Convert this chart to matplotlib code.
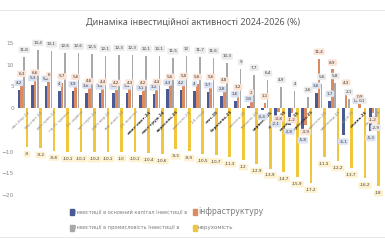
import matplotlib

matplotlib.use("Agg")

import matplotlib.pyplot as plt
import numpy as np
from matplotlib.lines import Line2D
from matplotlib.patches import Rectangle

periods = ["лют-бер.24", "бер-квіт.24", "квіт-трав.24", "на 25 травня", "24 червня",
           "лип-серп.24", "серп-вер.24", "вер-жовт.24", "25 жовтня", "жовт-лист.24",
           "лист-груд.24", "вересень.25", "жовтень.25", "24 січня", "лют.25",
           "березень.25", "квітень.25", "травень.25", "червень.25", "липень.25",
           "серпень.25", "вересень.25", "жовтень.25", "листопад.25", "груд.25",
           "січень.26", "лютий.26"]
bold_periods = {9, 10, 11, 14, 15, 18, 19, 20, 21, 25}

capital = [4.2, 5.3, 5.2, 4, 3.9, 3.6, 3.4, 3.4, 3.4, 3.1, 3.2, 4.3, 4.2, 4,
           3.7, 2.8, 1.6, 0.5, -0.4, -2.1, -3.8, -5.8, 3.6, 1.7, -6.1, 0.1, -5.3]
infra = [6.3, 6.6, 6, 5.7, 5.6, 4.6, 4.4, 4.2, 4.3, 4.2, 4.4, 5.6, 5.8, 5.6,
         5.6, 4.8, 3.2, 2, 1.1, -0.8, -1.2, -3.9, 11.4, 8.9, 4.3, 0.9, -1.2]
industry = [11.8, 13.4, 13.1, 12.6, 12.6, 12.5, 12.1, 12.3, 12.3, 12.1, 12.1, 11.5, 12,
            11.7, 11.6, 10.3, 9, 7.7, 6.4, 4.9, 4, 2.6, 5.6, 5.8, 2.1, 0.1, -2.9]
realty = [-9, -9.2, -9.8, -10.1, -10.1, -10.2, -10.1, -10.0, -10.1, -10.4, -10.6, -9.5,
          -9.9, -10.5, -10.7, -11.3, -12, -12.9, -13.9, -14.7, -15.9, -17.2, -11.3,
          -12.2, -13.7, -16.2, -18]

# values, bar colour, label box colour, bar width
series = [
    (capital, "#4a5a94", "#dbe3f2", 0.2),
    (infra, "#dc8a62", "#fbe4d6", 0.2),
    (industry, "#a8a8a8", "#ebebeb", 0.12),
    (realty, "#f0c63c", "#fdf1cf", 0.2),
]

fig = plt.figure(figsize=(3.85, 2.5), dpi=100)
ax = fig.add_axes([0.042, 0.22, 0.948, 0.608])

x = np.arange(len(periods))
for k, (vals, color, box, w) in enumerate(series):
    pos = x + (k - 1.5) * 0.2
    ax.bar(pos, vals, w, color=color, zorder=2)
    for px, v in zip(pos, vals):
        off = 1.6 if v >= 0 else -1.6
        ax.text(px, v + off, f"{v:g}".replace(".", ","), ha="center", va="center",
                fontsize=3.0, color="#404040", zorder=4, clip_on=False,
                bbox=dict(boxstyle="round,pad=0.3", fc=box, ec="none"))

for i, lab in enumerate(periods):
    ax.text(i + 0.35, -0.4, lab, rotation=45, ha="right", va="top", rotation_mode="anchor",
            fontsize=3.0, color="#333333" if i in bold_periods else "#8a8a8a",
            fontweight="bold" if i in bold_periods else "normal", zorder=3)

ax.set_xlim(-0.5, len(periods) - 0.5)
ax.set_ylim(-20, 15)
ax.set_yticks([-20, -15, -10, 0, 5, 10, 15])
ax.tick_params(axis="y", length=0, labelsize=4.2, labelcolor="#8a8a8a", pad=1.5)
ax.set_xticks([])
for side in ax.spines.values():
    side.set_visible(False)

fig.text(0.5, 0.912, "Динаміка інвестиційної активності 2024-2026 (%)", ha="center",
         va="center", fontsize=6.5, color="#595959", family="Noto Sans")

fig.add_artist(Line2D([0, 1], [0.962, 0.962], color="#e4e4e4", lw=0.6))
fig.add_artist(Line2D([0, 1], [0.052, 0.052], color="#e4e4e4", lw=0.6))

legend_rows = [
    (0.152, "#4a5a94", "Інвестиції в основний капітал Інвестиції в", "#dc8a62", "інфраструктуру", 5.6),
    (0.088, "#a8a8a8", "Інвестиції в промисловість Інвестиції в", "#f0c63c", "нерухомість", 4.0),
]
for y, c1, t1, c2, t2, fs2 in legend_rows:
    fig.add_artist(Rectangle((0.181, y - 0.011), 0.011, 0.022, color=c1, transform=fig.transFigure))
    fig.text(0.194, y, t1, ha="left", va="center", fontsize=3.6, color="#7a7a7a")
    fig.add_artist(Rectangle((0.501, y - 0.011), 0.011, 0.022, color=c2, transform=fig.transFigure))
    fig.text(0.514, y, t2, ha="left", va="center", fontsize=fs2, color="#7a7a7a")

fig.savefig("out.png", dpi=100)
